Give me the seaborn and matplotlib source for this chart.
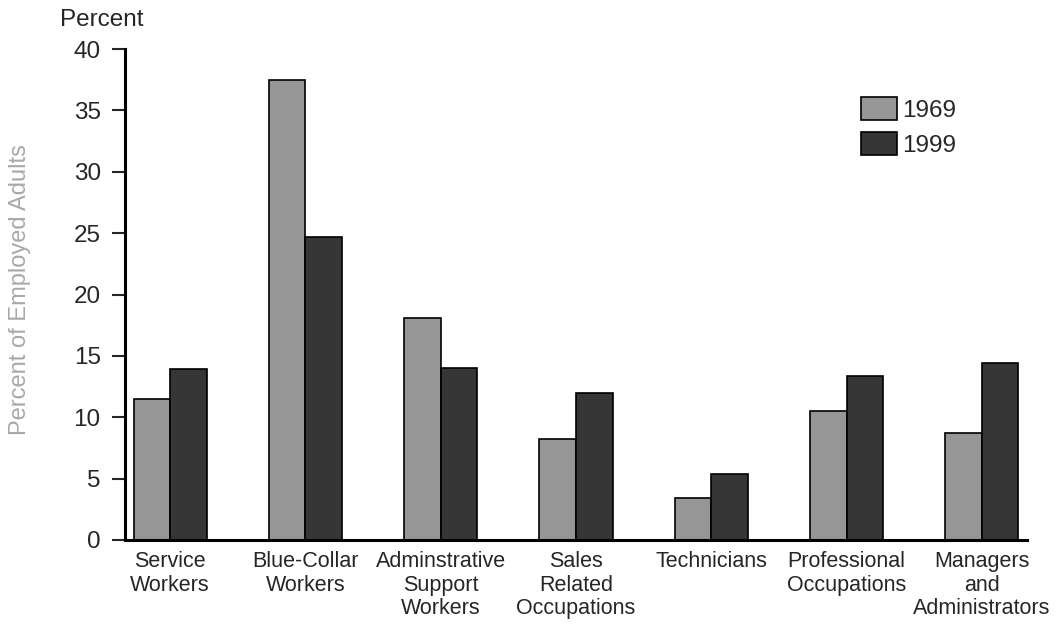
import matplotlib
matplotlib.use("Agg")
import matplotlib.pyplot as plt
import seaborn as sns
import pandas as pd

categories = ["Service\nWorkers", "Blue-Collar\nWorkers", "Adminstrative\nSupport\nWorkers",
              "Sales\nRelated\nOccupations", "Technicians", "Professional\nOccupations",
              "Managers\nand\nAdministrators"]
years = ["1969", "1999"]
values_1969 = [11.5, 37.5, 18.1, 8.2, 3.4, 10.5, 8.7]
values_1999 = [13.9, 24.7, 14.0, 12.0, 5.4, 13.4, 14.4]

df = pd.DataFrame({
    "category": categories * 2,
    "year": [years[0]] * len(categories) + [years[1]] * len(categories),
    "value": values_1969 + values_1999,
})

sns.set_style("white")
plt.rcParams["font.family"] = ["Liberation Sans", "DejaVu Sans"]

fig = plt.figure(figsize=(10.56, 6.25), dpi=100)
ax = fig.add_axes([125 / 1056, 85 / 625, (1027 - 125) / 1056, (540 - 49) / 625])

sns.barplot(data=df, x="category", y="value", hue="year", order=categories,
            hue_order=years, palette=["#969696", "#363636"], edgecolor="black",
            linewidth=1.2, width=0.54, gap=0, saturation=1, ax=ax, legend=True)

ax.set_ylim(0, 40)
ax.set_xlim(-0.333, 6.333)
ax.set_yticks(range(0, 41, 5))
ax.tick_params(axis="y", labelsize=17.5, length=9.5, width=1.5, direction="out", left=True, pad=8)
ax.tick_params(axis="x", labelsize=15.5, length=0, pad=8)
for lab in ax.get_xticklabels():
    lab.set_linespacing(1.15)
ax.set_xlabel("")
ax.set_ylabel("")
for s in ["top", "right"]:
    ax.spines[s].set_visible(False)
ax.spines["left"].set_linewidth(2.2)
ax.spines["bottom"].set_linewidth(2.2)
ax.spines["left"].set_color("black")
ax.spines["bottom"].set_color("black")

handles, labels = ax.get_legend_handles_labels()
ax.legend(handles, labels, loc="upper left",
          bbox_to_anchor=((861 - 125) / 902, 1 - (97 - 49) / 491),
          frameon=False, fontsize=17.5, handlelength=1.5, handleheight=1.1,
          handletextpad=0.2, labelspacing=0.4, borderaxespad=0, borderpad=0)

fig.text(60 / 1056, 1 - 20 / 625, "Percent", fontsize=17.5, ha="left", va="center")
fig.text(20 / 1056, 1 - 290 / 625, "Percent of Employed Adults", fontsize=17, rotation=90,
         ha="center", va="center", color="#a8a8a8")

fig.savefig("out.png", dpi=100)
